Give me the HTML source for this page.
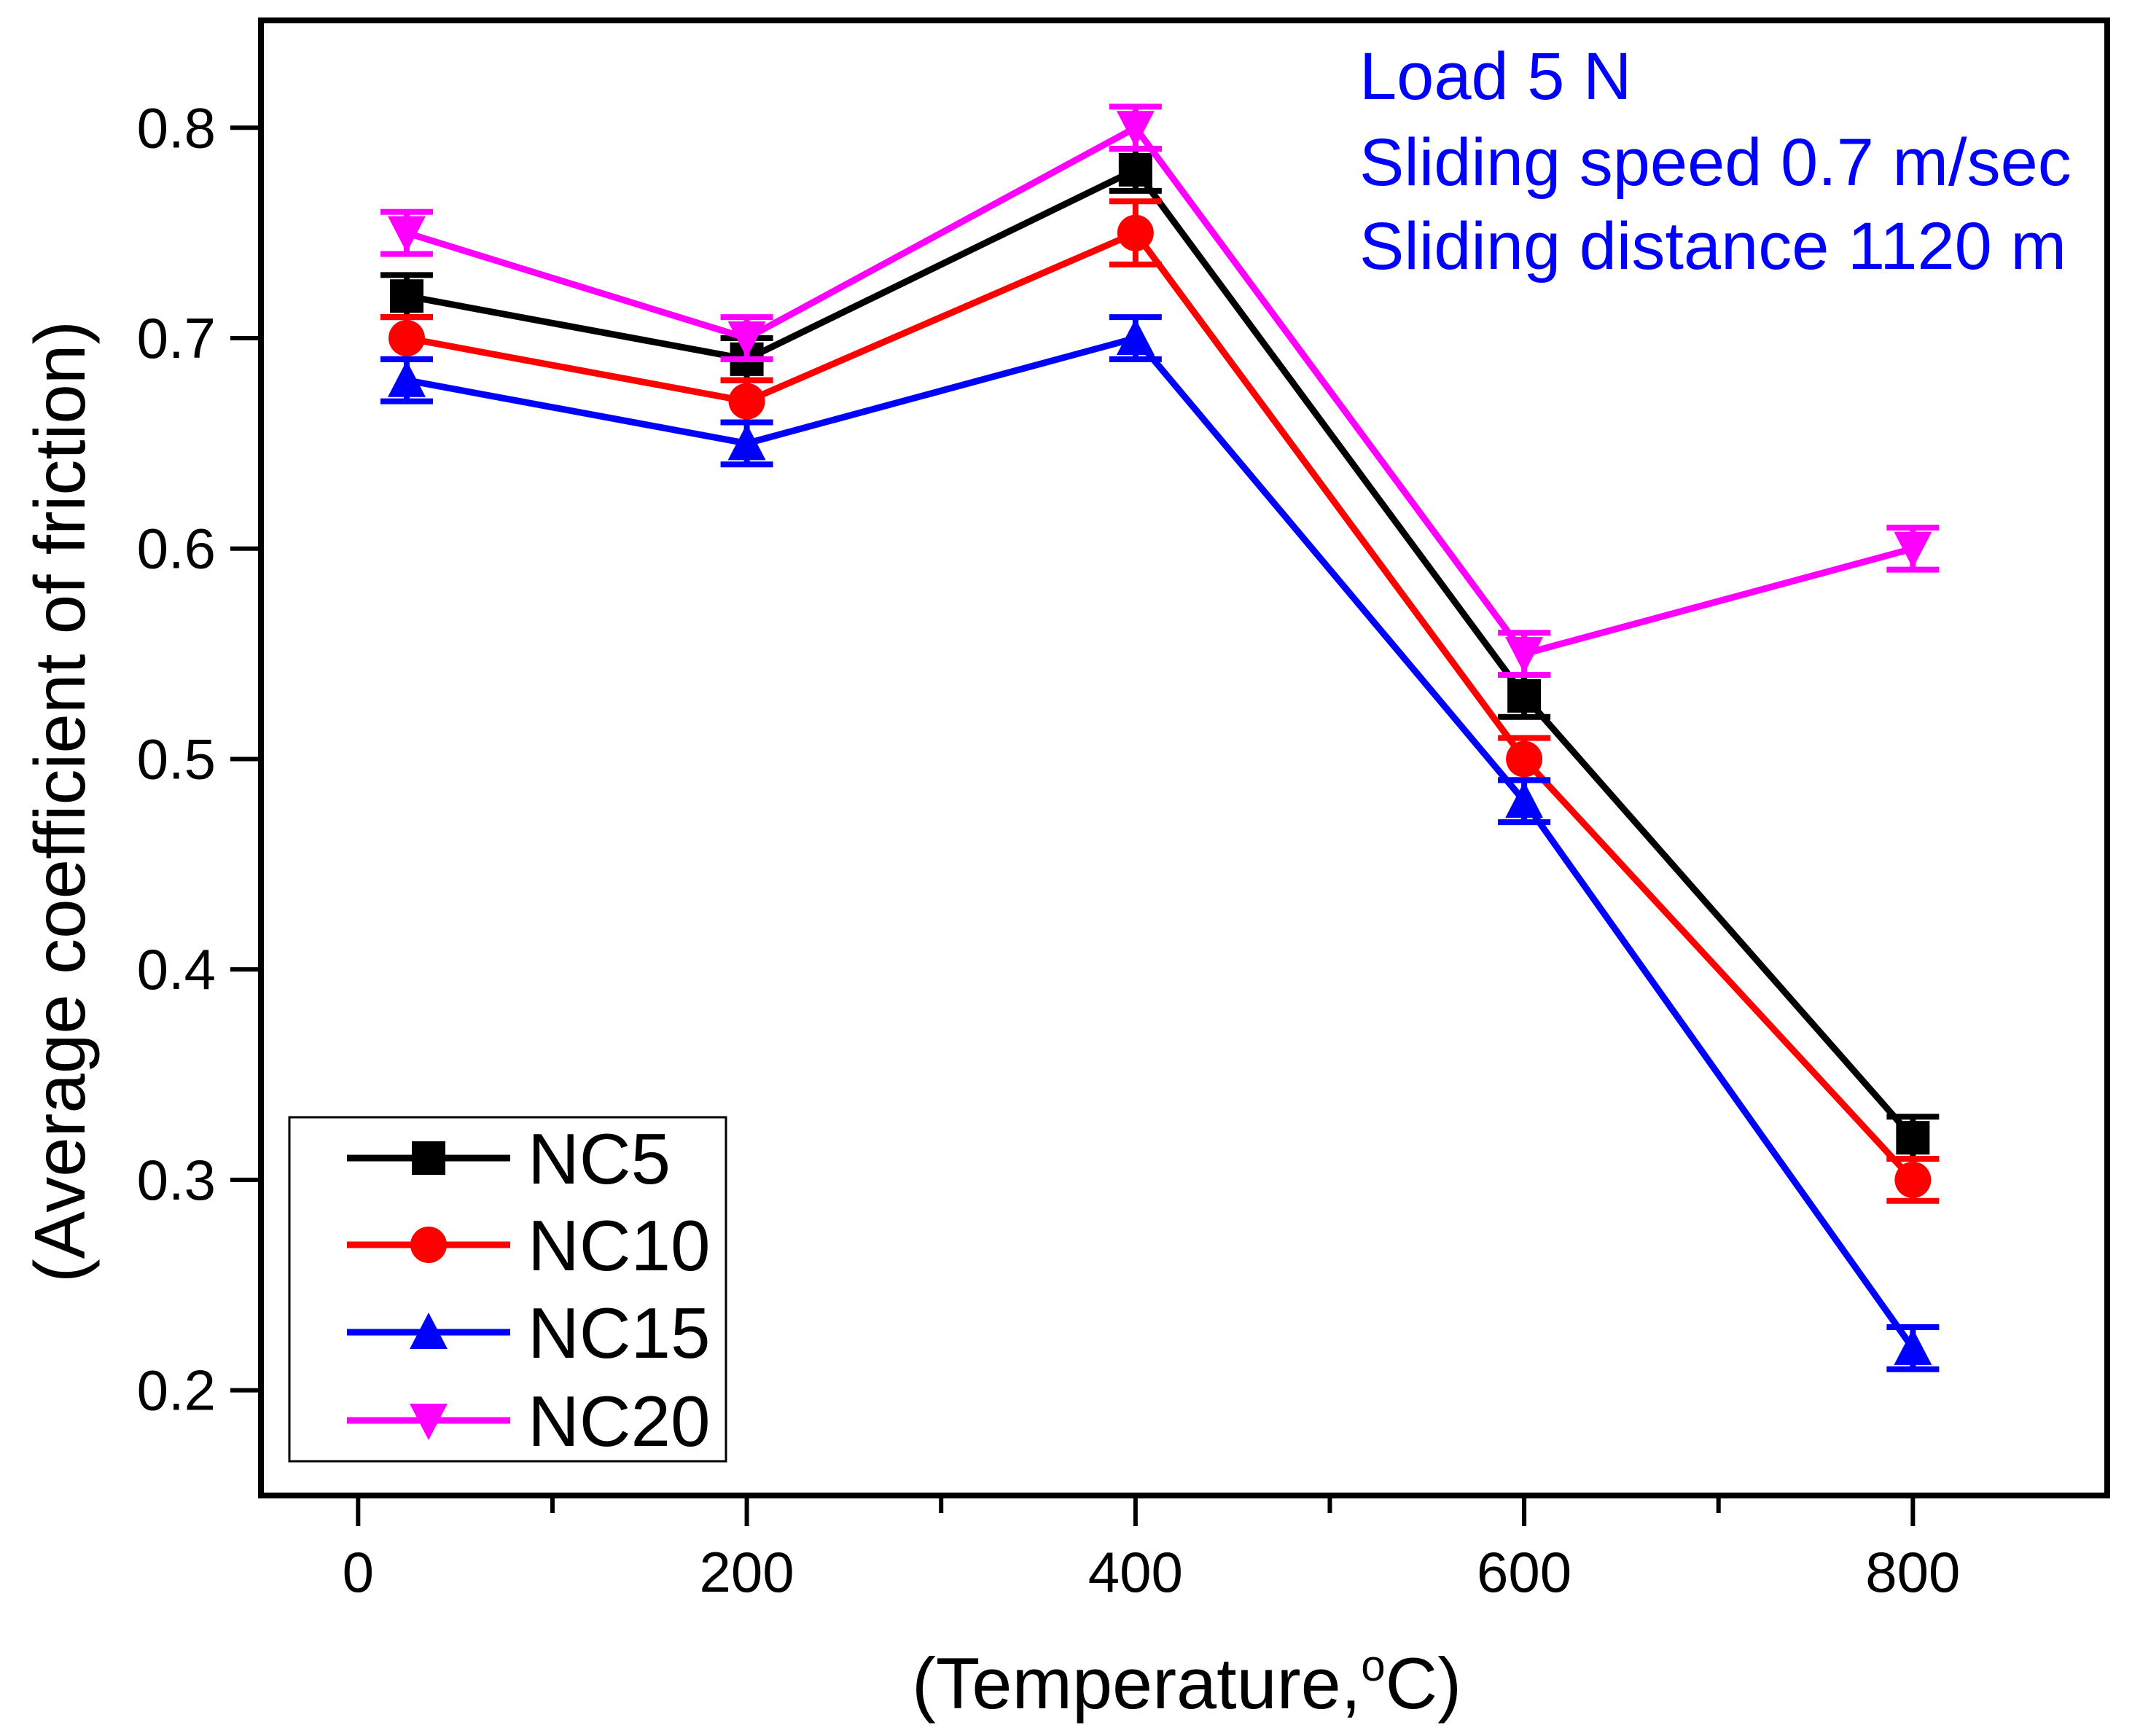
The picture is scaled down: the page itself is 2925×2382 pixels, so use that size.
<!DOCTYPE html>
<html><head><meta charset="utf-8"><style>
html,body{margin:0;padding:0;background:#fff;}
svg{display:block;font-family:"Liberation Sans",Arial,sans-serif;}
</style></head><body>
<svg id="chart" width="2925" height="2382" viewBox="0 0 2925 2382" xmlns="http://www.w3.org/2000/svg">
<g id="plot"></g>
</svg>
<script>
const temps = [25, 200, 400, 600, 800];
const nc5 = [0.72, 0.69, 0.78, 0.53, 0.32];
const nc10 = [0.70, 0.67, 0.75, 0.50, 0.30];
const nc15 = [0.68, 0.65, 0.70, 0.48, 0.22];
const nc20 = [0.75, 0.70, 0.80, 0.55, 0.60];
const err5 = [0.01, 0.01, 0.01, 0.01, 0.01];
const err10 = [0.01, 0.01, 0.015, 0.01, 0.01];
const err15 = [0.01, 0.01, 0.01, 0.01, 0.01];
const err20 = [0.01, 0.01, 0.01, 0.01, 0.01];
const xTicks = [0, 200, 400, 600, 800];
const yTicks = [0.2, 0.3, 0.4, 0.5, 0.6, 0.7, 0.8];

const L=358, R=2891, T=28, B=2052;
const xMin=-50, xMax=900, yMin=0.15, yMax=0.851;
const xs = v => L + (v - xMin) / (xMax - xMin) * (R - L);
const ys = v => B - (v - yMin) / (yMax - yMin) * (B - T);
const NS="http://www.w3.org/2000/svg";
const g=document.getElementById('plot');
function mk(tag, attrs, parent){const e=document.createElementNS(NS,tag);for(const k in attrs)e.setAttribute(k,attrs[k]);(parent||g).appendChild(e);return e;}

const frame=mk('rect',{x:L,y:T,width:R-L,height:B-T,fill:'none',stroke:'#000','stroke-width':8});



for(let v=0; v<=800; v+=100){
  const major = v%200===0;
  const t=mk('line',{x1:xs(v),x2:xs(v),y1:B,y2:B+(major?42:24),stroke:'#000','stroke-width':6});
  
  
}
xTicks.forEach(v=>{
  const t=mk('text',{x:xs(v),y:B+132,'font-size':78,'text-anchor':'middle',fill:'#000'});
  t.textContent=v;
  
  
});
yTicks.forEach(v=>{
  const t=mk('line',{x1:L-42,x2:L,y1:ys(v),y2:ys(v),stroke:'#000','stroke-width':6});
  
  
  const lb=mk('text',{x:L-62,y:ys(v)+27,'font-size':78,'text-anchor':'end',fill:'#000'});
  lb.textContent=v.toFixed(1);
  
  
});

const xt=mk('text',{x:1628,y:2344,'font-size':99,'text-anchor':'middle',fill:'#000'});
xt.innerHTML='(Temperature,<tspan dy="-38" font-size="60">o</tspan><tspan dy="38">C)</tspan>';


const yt=mk('text',{x:0,y:0,'font-size':98,'text-anchor':'middle',fill:'#000',transform:'translate(116,1100) rotate(-90)'});
yt.textContent='(Average coefficient of friction)';



[['Load 5 N',136],['Sliding speed 0.7 m/sec',254],['Sliding distance 1120 m',369]].forEach((a,i)=>{
  const t=mk('text',{x:1865,y:a[1],'font-size':92,fill:'#0000ff'});
  t.textContent=a[0];
  
  
});

function marker(type,cx,cy,color,parent){
  const s=23;
  if(type==='square') return mk('rect',{x:cx-s,y:cy-s,width:2*s,height:2*s,fill:color},parent);
  if(type==='circle') return mk('circle',{cx:cx,cy:cy,r:s+2,fill:color},parent);
  if(type==='up') return mk('polygon',{points:`${cx},${cy-s-4} ${cx-s-3},${cy+s} ${cx+s+3},${cy+s}`,fill:color},parent);
  return mk('polygon',{points:`${cx},${cy+s+4} ${cx-s-3},${cy-s} ${cx+s+3},${cy-s}`,fill:color},parent);
}

const series=[
  {name:'NC5',vals:nc5,err:err5,color:'#000000',m:'square'},
  {name:'NC10',vals:nc10,err:err10,color:'#ff0000',m:'circle'},
  {name:'NC15',vals:nc15,err:err15,color:'#0000ff',m:'up'},
  {name:'NC20',vals:nc20,err:err20,color:'#ff00ff',m:'down'}
];
series.forEach(s=>{
  const sg=mk('g',{});
  
  
  mk('polyline',{points:temps.map((t,i)=>xs(t)+','+ys(s.vals[i])).join(' '),fill:'none',stroke:s.color,'stroke-width':9},sg);
  temps.forEach((t,i)=>{
    const x=xs(t), y1=ys(s.vals[i]-s.err[i]), y2=ys(s.vals[i]+s.err[i]);
    const eb=mk('path',{d:`M${x},${y1}V${y2}M${x-36},${y1}H${x+36}M${x-36},${y2}H${x+36}`,stroke:s.color,'stroke-width':8,fill:'none'},sg);
    
    
    const m=marker(s.m,x,ys(s.vals[i]),s.color,sg);
    
    
  });
});

const lg=mk('g',{});


mk('rect',{x:397,y:1533,width:599,height:472,fill:'#fff',stroke:'#000','stroke-width':3},lg);
const ly=[1589,1708,1828,1949];
series.forEach((s,i)=>{
  const e=mk('g',{},lg);
  
  
  mk('line',{x1:476,x2:700,y1:ly[i],y2:ly[i],stroke:s.color,'stroke-width':9},e);
  marker(s.m,588,ly[i],s.color,e);
  const t=mk('text',{x:724,y:ly[i]+35,'font-size':98,fill:'#000'},e);
  t.textContent=s.name;
});
</script>
</body></html>
